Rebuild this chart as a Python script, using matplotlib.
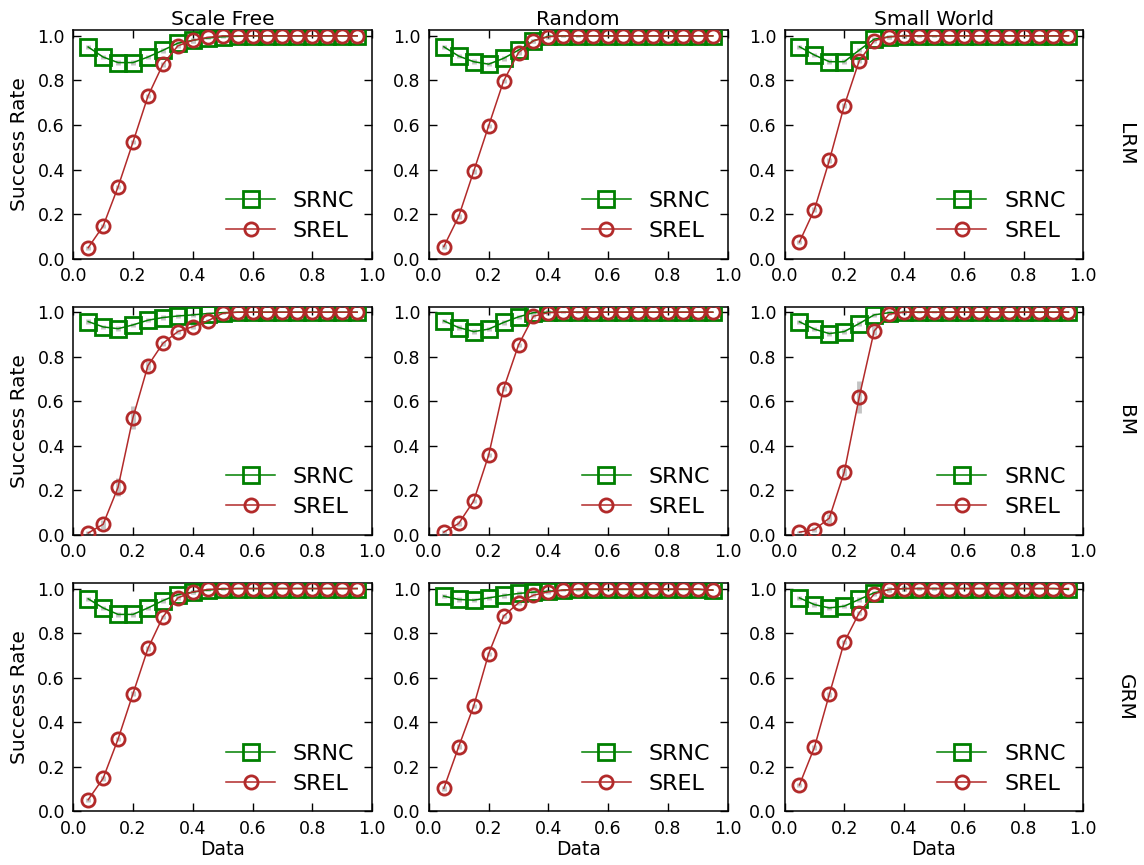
import matplotlib
matplotlib.use("Agg")
import matplotlib.pyplot as plt
import numpy as np

# x positions of the measurements
x_vals = [0.05, 0.10, 0.15, 0.20, 0.25, 0.30, 0.35, 0.40, 0.45, 0.50,
          0.55, 0.60, 0.65, 0.70, 0.75, 0.80, 0.85, 0.90, 0.95]

col_titles = ["Scale Free", "Random", "Small World"]
row_titles = ["LRM", "BM", "GRM"]

# SRNC per panel (row, col)
srnc_lrm_sf = [0.950, 0.905, 0.880, 0.880, 0.905, 0.935, 0.967, 0.980, 0.990, 0.996,
               0.998, 1.0, 1.0, 1.0, 1.0, 1.0, 1.0, 1.0, 1.0]
srnc_lrm_rnd = [0.951, 0.909, 0.884, 0.873, 0.899, 0.936, 0.978, 0.998, 1.0, 1.0,
                1.0, 1.0, 1.0, 1.0, 1.0, 1.0, 1.0, 1.0, 1.0]
srnc_lrm_sw = [0.951, 0.914, 0.884, 0.884, 0.936, 0.985, 0.996, 1.0, 1.0, 1.0,
               1.0, 1.0, 1.0, 1.0, 1.0, 1.0, 1.0, 1.0, 1.0]
srnc_bm_sf = [0.958, 0.934, 0.926, 0.943, 0.964, 0.976, 0.983, 0.988, 0.994, 0.998,
              1.0, 1.0, 1.0, 1.0, 1.0, 1.0, 1.0, 1.0, 1.0]
srnc_bm_rnd = [0.961, 0.931, 0.913, 0.924, 0.954, 0.979, 0.998, 1.0, 1.0, 1.0,
               1.0, 1.0, 1.0, 1.0, 1.0, 1.0, 1.0, 1.0, 1.0]
srnc_bm_sw = [0.957, 0.924, 0.904, 0.913, 0.949, 0.988, 0.998, 1.0, 1.0, 1.0,
              1.0, 1.0, 1.0, 1.0, 1.0, 1.0, 1.0, 1.0, 1.0]
srnc_grm_sf = [0.954, 0.913, 0.884, 0.884, 0.913, 0.946, 0.973, 0.984, 0.993, 0.998,
               1.0, 1.0, 1.0, 1.0, 1.0, 1.0, 1.0, 1.0, 1.0]
srnc_grm_rnd = [0.966, 0.951, 0.948, 0.958, 0.969, 0.978, 0.984, 0.988, 0.993, 0.996,
                0.996, 0.996, 0.996, 0.996, 0.996, 0.996, 0.996, 0.996, 0.993]
srnc_grm_sw = [0.958, 0.928, 0.913, 0.921, 0.951, 0.981, 0.996, 1.0, 1.0, 1.0,
               1.0, 1.0, 1.0, 1.0, 1.0, 1.0, 1.0, 1.0, 0.996]

# SREL per panel
srel_lrm_sf = [0.049, 0.146, 0.322, 0.523, 0.729, 0.872, 0.955, 0.980, 0.993, 1.0,
               1.0, 1.0, 1.0, 1.0, 1.0, 1.0, 1.0, 1.0, 1.0]
srel_lrm_rnd = [0.054, 0.190, 0.392, 0.596, 0.797, 0.925, 0.978, 0.996, 1.0, 1.0,
                1.0, 1.0, 1.0, 1.0, 1.0, 1.0, 1.0, 1.0, 1.0]
srel_lrm_sw = [0.075, 0.220, 0.441, 0.687, 0.888, 0.978, 0.996, 1.0, 1.0, 1.0,
               1.0, 1.0, 1.0, 1.0, 1.0, 1.0, 1.0, 1.0, 1.0]
srel_bm_sf = [0.009, 0.048, 0.214, 0.527, 0.760, 0.860, 0.913, 0.935, 0.961, 0.995,
              1.0, 1.0, 1.0, 1.0, 1.0, 1.0, 1.0, 1.0, 1.0]
srel_bm_rnd = [0.013, 0.052, 0.153, 0.358, 0.657, 0.853, 0.982, 0.998, 1.0, 1.0,
               1.0, 1.0, 1.0, 1.0, 1.0, 1.0, 1.0, 1.0, 1.0]
srel_bm_sw = [0.013, 0.024, 0.076, 0.283, 0.619, 0.916, 0.991, 1.0, 1.0, 1.0,
              1.0, 1.0, 1.0, 1.0, 1.0, 1.0, 1.0, 1.0, 1.0]
srel_grm_sf = [0.052, 0.148, 0.324, 0.528, 0.731, 0.873, 0.958, 0.985, 0.996, 1.0,
               1.0, 1.0, 1.0, 1.0, 1.0, 1.0, 1.0, 1.0, 1.0]
srel_grm_rnd = [0.103, 0.291, 0.473, 0.707, 0.876, 0.936, 0.970, 0.985, 0.993, 0.998,
                0.998, 0.998, 0.998, 0.998, 0.998, 0.998, 0.998, 0.998, 0.993]
srel_grm_sw = [0.119, 0.287, 0.525, 0.760, 0.891, 0.976, 0.996, 1.0, 1.0, 1.0,
               1.0, 1.0, 1.0, 1.0, 1.0, 1.0, 1.0, 1.0, 1.0]

# error bar half-widths (mostly tiny, larger on the steep part)
err_small = [0.01, 0.01, 0.01, 0.01, 0.01, 0.01, 0.01, 0.01, 0.005, 0.005,
             0.0, 0.0, 0.0, 0.0, 0.0, 0.0, 0.0, 0.0, 0.0]
err_bm_sf = [0.01, 0.02, 0.04, 0.05, 0.02, 0.01, 0.01, 0.01, 0.01, 0.005,
             0.0, 0.0, 0.0, 0.0, 0.0, 0.0, 0.0, 0.0, 0.0]
err_bm_sw = [0.005, 0.01, 0.02, 0.02, 0.07, 0.02, 0.005, 0.0, 0.0, 0.0,
             0.0, 0.0, 0.0, 0.0, 0.0, 0.0, 0.0, 0.0, 0.0]

srnc_grid = [[srnc_lrm_sf, srnc_lrm_rnd, srnc_lrm_sw],
             [srnc_bm_sf, srnc_bm_rnd, srnc_bm_sw],
             [srnc_grm_sf, srnc_grm_rnd, srnc_grm_sw]]
srel_grid = [[srel_lrm_sf, srel_lrm_rnd, srel_lrm_sw],
             [srel_bm_sf, srel_bm_rnd, srel_bm_sw],
             [srel_grm_sf, srel_grm_rnd, srel_grm_sw]]
srel_err = [[err_small, err_small, err_small],
            [err_bm_sf, err_small, err_bm_sw],
            [err_small, err_small, err_small]]

green = "#008000"
red = "#b22a2a"
gray = "#c4c4c4"

plt.rcParams["font.family"] = "DejaVu Sans"

fig, axes = plt.subplots(3, 3, figsize=(11.44, 8.65), dpi=100)
fig.subplots_adjust(left=0.064, right=0.947, top=0.965, bottom=0.062,
                    wspace=0.19, hspace=0.21)

for r in range(3):
    for c in range(3):
        ax = axes[r][c]
        ax.errorbar(x_vals, srnc_grid[r][c], yerr=err_small, fmt="none",
                    ecolor=gray, elinewidth=3.5, zorder=1)
        ax.errorbar(x_vals, srel_grid[r][c], yerr=srel_err[r][c], fmt="none",
                    ecolor=gray, elinewidth=3.5, zorder=1)
        ax.plot(x_vals, srnc_grid[r][c], color=green, lw=1.1, marker="s",
                ms=11.5, mfc="none", mec=green, mew=2, label="SRNC", zorder=3)
        ax.plot(x_vals, srel_grid[r][c], color=red, lw=1.1, marker="o",
                ms=9.5, mfc="none", mec=red, mew=2, label="SREL", zorder=4)

        ax.set_xlim(0, 1.0)
        ax.set_ylim(0, 1.025)
        ax.set_xticks(np.arange(0, 1.01, 0.2))
        ax.set_yticks(np.arange(0, 1.01, 0.2))
        ax.tick_params(direction="in", top=True, right=True, length=6,
                       width=1, labelsize=12.5, pad=6)
        for sp in ax.spines.values():
            sp.set_linewidth(1.1)

        ax.legend(loc="lower right", frameon=False, numpoints=1,
                  fontsize=16, handlelength=2.2, borderaxespad=0.4,
                  labelspacing=0.45)

        if r == 0:
            ax.set_title(col_titles[c], fontsize=14.5, pad=4)
        if c == 0:
            ax.set_ylabel("Success Rate", fontsize=14.5, labelpad=6)
        if r == 2:
            ax.set_xlabel("Data", fontsize=13.5, labelpad=2)
        if c == 2:
            ax.text(1.14, 0.5, row_titles[r], transform=ax.transAxes,
                    rotation=270, fontsize=14.5, va="center", ha="center")

fig.savefig("out.png", dpi=100)
